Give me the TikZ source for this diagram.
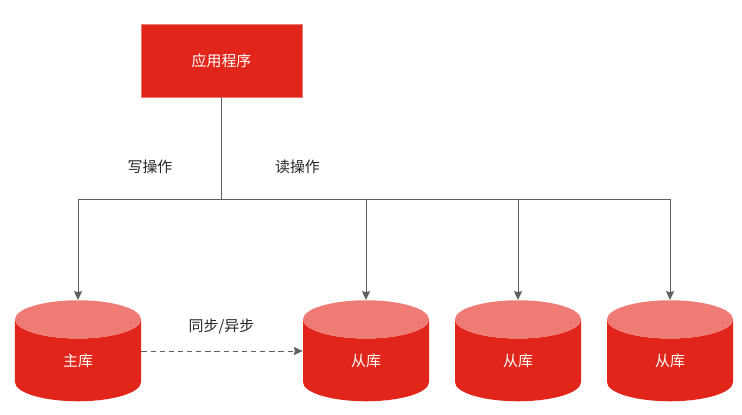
\documentclass[tikz,border=0pt]{standalone}
\usepackage{fontspec}
\setmainfont{Noto Sans CJK SC}
\usetikzlibrary{shapes.geometric,arrows.meta}
\definecolor{dbred}{HTML}{E2251A}
\definecolor{dbtop}{HTML}{EE7C74}
\definecolor{linegray}{HTML}{5F5F5F}
\tikzset{
  appbox/.style={draw=dbtop,line width=0.4pt,fill=dbred,text=white,minimum width=3.22cm,minimum height=1.46cm,font=\fontsize{8.5}{10}\selectfont},
  dbnode/.style={cylinder,shape border rotate=90,aspect=1.28,cylinder uses custom fill,cylinder body fill=dbred,cylinder end fill=dbtop,
    minimum width=2.52cm,minimum height=2.02cm,text=white,inner sep=0pt,font=\fontsize{8.5}{10}\selectfont},
  link/.style={linegray,line width=0.55pt},
  linkarrow/.style={link,-{Stealth[length=5pt,width=4.6pt,inset=0.6pt]}},
  oplabel/.style={font=\fontsize{8.5}{10}\selectfont,text=black!85}
}
\begin{document}
\begin{tikzpicture}
  \useasboundingbox (0,0) rectangle (14.84,8.28);
  % Application box
  \node[appbox] (app) at (4.43,7.07) {应用程序};

  % Databases
  \node[dbnode] (master) at (1.56,1.07) {主库};
  \node[dbnode] (slaveA) at (7.32,1.07) {从库};
  \node[dbnode] (slaveB) at (10.36,1.07) {从库};
  \node[dbnode] (slaveC) at (13.40,1.07) {从库};

  % Branch point
  \coordinate (bus) at (4.43,4.30);

  % Connectors
  \draw[link] (app.south) -- (bus);
  \draw[linkarrow] (bus) -| (master.north);
  \draw[linkarrow] (bus) -| (slaveA.north);
  \draw[linkarrow] (bus) -| (slaveB.north);
  \draw[linkarrow] (bus) -| (slaveC.north);
  \draw[linkarrow,dash pattern=on 3pt off 2.2pt] ([yshift=0.19cm]master.east) -- ([yshift=0.19cm]slaveA.west);

  % Labels
  \node[oplabel] (write) at (3.00,4.95) {写操作};
  \node[oplabel] (read) at (5.95,4.95) {读操作};
  \node[oplabel] (sync) at (4.43,1.74) {同步/异步};
\end{tikzpicture}
\end{document}
